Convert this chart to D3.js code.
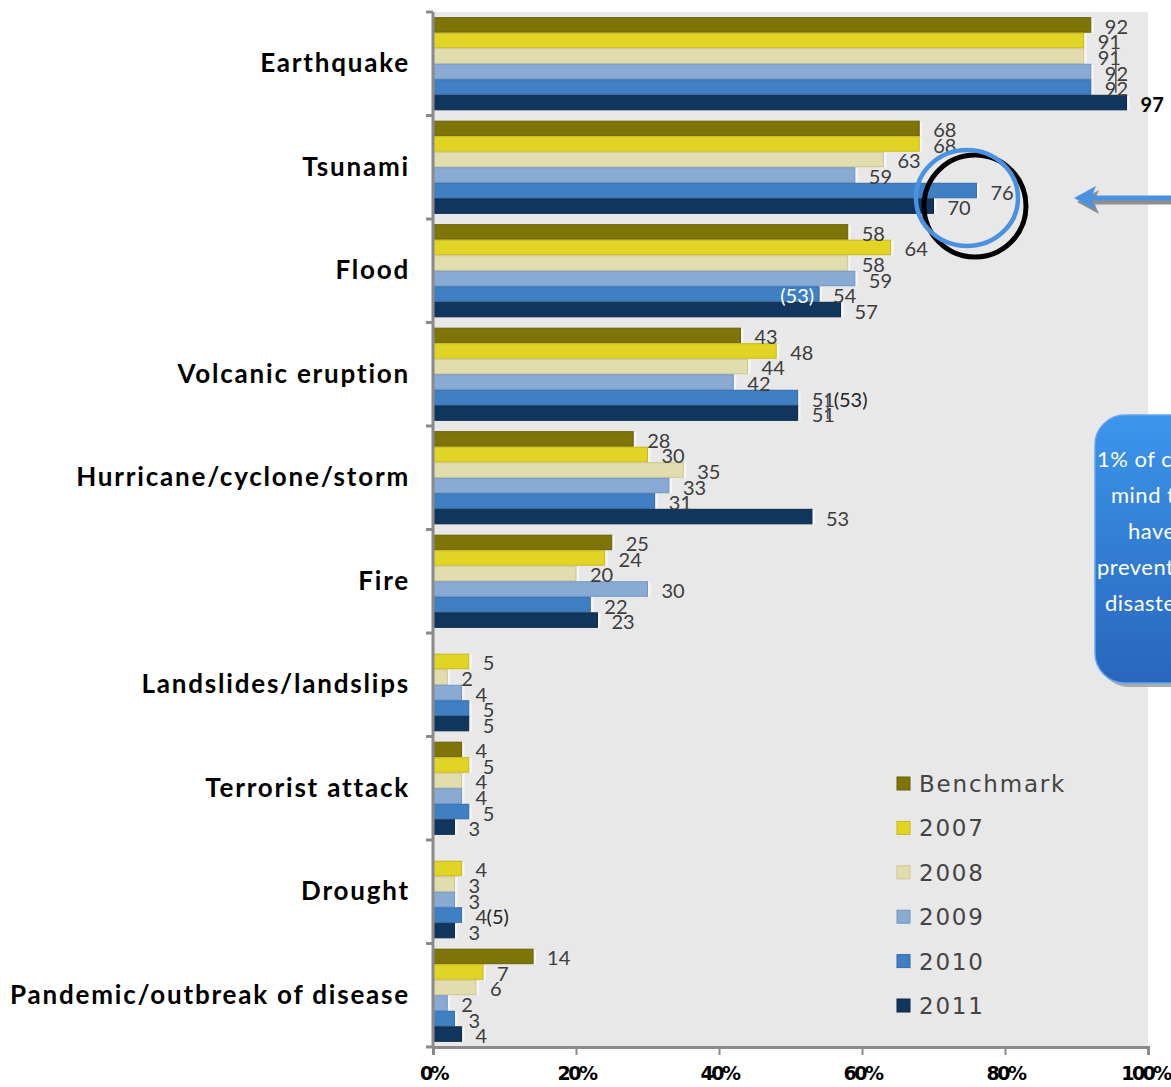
<!DOCTYPE html>
<html>
<head>
<meta charset="utf-8">
<script src="https://cdn.jsdelivr.net/npm/d3@7"></script>
<style>
  html, body { margin: 0; padding: 0; background: #ffffff; overflow: hidden; }
  svg { display: block; }
</style>
</head>
<body>
<svg id="chart" width="1171" height="1087"></svg>
<script>
// Hazard categories, top to bottom
const categories = [
  "Earthquake", "Tsunami", "Flood", "Volcanic eruption",
  "Hurricane/cyclone/storm", "Fire", "Landslides/landslips",
  "Terrorist attack", "Drought", "Pandemic/outbreak of disease"
];

// Series, in drawing order within each group
const seriesNames = ["Benchmark", "2007", "2008", "2009", "2010", "2011"];

// Percentages per series (null = no value reported)
const benchmark = [92, 68, 58, 43, 28, 25, null, 4, null, 14];
const y2007     = [91, 68, 64, 48, 30, 24, 5, 5, 4, 7];
const y2008     = [91, 63, 58, 44, 35, 20, 2, 4, 3, 6];
const y2009     = [92, 59, 59, 42, 33, 30, 4, 4, 3, 2];
const y2010     = [92, 76, 54, 51, 31, 22, 5, 5, 4, 3];
const y2011     = [97, 70, 57, 51, 53, 23, 5, 3, 3, 4];

// Axis tick values (percent)
const xTicks = [0, 20, 40, 60, 80, 100];

// Bracketed side notes attached to particular bars
const notes = [
  { category: "Flood", series: "2010", text: "(53)", inside: true },
  { category: "Volcanic eruption", series: "2010", text: "(53)", inside: false },
  { category: "Drought", series: "2010", text: "(5)", inside: false }
];

// Callout text
const calloutLines = ["1% of companies", "mind they", "have", "prevented", "disasters"];

const seriesValues = [benchmark, y2007, y2008, y2009, y2010, y2011];
const fills   = ["#7f7407", "#e2d424", "#e2ddad", "#88aad3", "#3f80c5", "#10365f"];
const strokes = ["#6a6005", "#c8b814", "#cbc58f", "#6f95c3", "#2f6aad", "#0a2846"];

const svg = d3.select("#chart");

const plot = { left: 433, right: 1148, top: 12, bottom: 1047 };

const x = d3.scaleLinear().domain([0, 100]).range([plot.left, plot.right]);
const y = d3.scaleBand().domain(categories).range([plot.top, plot.bottom])
  .paddingInner(0.1).paddingOuter(0.05);
const ys = d3.scaleBand().domain(seriesNames).range([0, y.bandwidth()]);

// plot background
svg.append("rect")
  .attr("x", plot.left).attr("y", plot.top)
  .attr("width", plot.right - plot.left).attr("height", plot.bottom - plot.top)
  .attr("fill", "#e8e8e8");

// flatten data
const rows = [];
categories.forEach((c, i) => {
  seriesNames.forEach((s, j) => {
    const v = seriesValues[j][i];
    if (v !== null) rows.push({ category: c, series: s, si: j, value: v });
  });
});

const barY = d => y(d.category) + ys(d.series);

// bars
const gBars = svg.append("g");
gBars.selectAll("rect.shadow").data(rows).join("rect")
  .attr("class", "shadow")
  .attr("x", x(0)).attr("y", d => barY(d) + 1)
  .attr("width", d => x(d.value) - x(0) + 3)
  .attr("height", ys.bandwidth() - 1)
  .attr("fill", "#f6f6f6");
gBars.selectAll("rect.bar").data(rows).join("rect")
  .attr("class", "bar")
  .attr("x", x(0)).attr("y", d => barY(d) + 0.5)
  .attr("width", d => x(d.value) - x(0))
  .attr("height", ys.bandwidth() - 1)
  .attr("fill", d => fills[d.si])
  .attr("stroke", d => strokes[d.si])
  .attr("stroke-width", 1);

// value labels
const isBold = d => d.category === "Earthquake" && d.series === "2011";
const gLabels = svg.append("g")
  .style("font-family", "Lato, 'DejaVu Sans', sans-serif");
gLabels.selectAll("text").data(rows).join("text")
  .attr("x", d => x(d.value) + 14)
  .attr("y", d => barY(d) + ys.bandwidth() / 2 + 1)
  .attr("dominant-baseline", "central")
  .attr("font-size", 20)
  .attr("font-weight", d => isBold(d) ? 700 : 400)
  .attr("fill", d => isBold(d) ? "#000" : "#3c3c3c")
  .text(d => d.value);

// bracketed notes
notes.forEach(n => {
  const d = rows.find(r => r.category === n.category && r.series === n.series);
  const t = gLabels.append("text")
    .attr("y", barY(d) + ys.bandwidth() / 2 + 1)
    .attr("dominant-baseline", "central")
    .attr("font-size", 20)
    .text(n.text);
  if (n.inside) {
    t.attr("x", x(d.value) - 5).attr("text-anchor", "end").attr("fill", "#ffffff");
  } else {
    t.attr("x", x(d.value) + 14 + (String(d.value).length * 11)).attr("fill", "#222");
  }
});

// leader lines for crowded labels
const leader = (cat, s1, s2, v) => {
  const a = rows.find(r => r.category === cat && r.series === s1);
  const b = rows.find(r => r.category === cat && r.series === s2);
  svg.append("line")
    .attr("x1", x(v)).attr("x2", x(v))
    .attr("y1", barY(a) + 4).attr("y2", barY(b) + ys.bandwidth() - 2)
    .attr("stroke", "#555").attr("stroke-width", 1.5);
};
leader("Earthquake", "2007", "2010", 95.5);
leader("Volcanic eruption", "2010", "2011", 55.2);
leader("Hurricane/cyclone/storm", "2010", "2010", 35.5);

// left axis: boundaries between groups
const step = y.step();
const boundaryYs = categories.map((c, i) => plot.top + i * step).concat([plot.bottom]);
svg.append("g").selectAll("line").data(boundaryYs).join("line")
  .attr("x1", plot.left - 7).attr("x2", plot.left)
  .attr("y1", d => d).attr("y2", d => d)
  .attr("stroke", "#8a8a8a").attr("stroke-width", 3);
svg.append("line")
  .attr("x1", plot.left).attr("x2", plot.left)
  .attr("y1", plot.top).attr("y2", plot.bottom)
  .attr("stroke", "#8a8a8a").attr("stroke-width", 3);

// category labels
const yAxis = d3.axisLeft(y).tickSize(0).tickPadding(23);
const gy = svg.append("g").attr("transform", `translate(${plot.left},0)`).call(yAxis);
gy.select(".domain").remove();
gy.selectAll("text")
  .style("font-family", "Lato, 'DejaVu Sans', sans-serif")
  .attr("font-size", 26)
  .attr("font-weight", 700)
  .attr("letter-spacing", 1.8)
  .attr("fill", "#000");

// bottom axis
const xAxis = d3.axisBottom(x).tickValues(xTicks).tickFormat(d => d + "%").tickSize(8).tickPadding(12);
const gx = svg.append("g").attr("transform", `translate(0,${plot.bottom})`).call(xAxis);
gx.select(".domain").attr("stroke", "#8a8a8a").attr("stroke-width", 3);
gx.selectAll(".tick line").attr("stroke", "#8a8a8a").attr("stroke-width", 2);
gx.selectAll("text")
  .style("font-family", "'DejaVu Sans', sans-serif")
  .attr("font-size", 19)
  .attr("font-weight", 700)
  .attr("letter-spacing", -2.5)
  .attr("fill", "#000");
gx.selectAll(".tick").filter(d => d === 100).select("text").attr("dx", -3);

// legend
const legend = svg.append("g").attr("transform", "translate(897,784)");
const li = legend.selectAll("g").data(seriesNames).join("g")
  .attr("transform", (d, i) => `translate(0,${i * 44.4})`);
li.append("rect")
  .attr("x", 0).attr("y", -7).attr("width", 13).attr("height", 13)
  .attr("fill", (d, i) => fills[i])
  .attr("stroke", (d, i) => strokes[i]).attr("stroke-width", 1);
li.append("text")
  .attr("x", 22).attr("y", 0)
  .attr("dominant-baseline", "central")
  .style("font-family", "'DejaVu Sans', sans-serif")
  .attr("font-size", 23)
  .attr("letter-spacing", 1.8)
  .attr("fill", "#444")
  .text(d => d);

// highlight circles around the Tsunami 2010/2011 bars
svg.append("circle")
  .attr("cx", 975).attr("cy", 206).attr("r", 51)
  .attr("fill", "none").attr("stroke", "#000").attr("stroke-width", 5);
svg.append("ellipse")
  .attr("cx", 967).attr("cy", 198).attr("rx", 51).attr("ry", 48)
  .attr("fill", "none").attr("stroke", "#4a92e0").attr("stroke-width", 4.5);

// arrow pointing at the highlight
const defs = svg.append("defs");
const arrow = (g, color) => {
  g.append("line")
    .attr("x1", 1171).attr("x2", 1088).attr("y1", 0).attr("y2", 0)
    .attr("stroke", color).attr("stroke-width", 5);
  g.append("path")
    .attr("d", "M1074,0 L1096,-12 L1091,0 L1096,12 Z")
    .attr("fill", color);
};
arrow(svg.append("g").attr("transform", "translate(3,202)"), "#8f8f8f");
arrow(svg.append("g").attr("transform", "translate(0,198)"), "#4a92e0");

// callout box
const grad = defs.append("linearGradient").attr("id", "calloutFill")
  .attr("x1", 0).attr("y1", 0).attr("x2", 0).attr("y2", 1);
grad.append("stop").attr("offset", "0%").attr("stop-color", "#3d95ec");
grad.append("stop").attr("offset", "100%").attr("stop-color", "#2866bc");
svg.append("rect")
  .attr("x", 1099).attr("y", 419).attr("width", 140).attr("height", 268).attr("rx", 30)
  .attr("fill", "#9a9a9a").attr("opacity", 0.8);
svg.append("rect")
  .attr("x", 1095).attr("y", 415).attr("width", 140).attr("height", 268).attr("rx", 30)
  .attr("fill", "url(#calloutFill)").attr("stroke", "#5fa6ee").attr("stroke-width", 1.5);
const lineStarts = [1097, 1111, 1128, 1097, 1105];
svg.append("g").selectAll("text").data(calloutLines).join("text")
  .attr("x", (d, i) => lineStarts[i])
  .attr("y", (d, i) => 458 + i * 36)
  .attr("dominant-baseline", "central")
  .style("font-family", "Lato, 'DejaVu Sans', sans-serif")
  .attr("font-size", 22)
  .attr("letter-spacing", 0.5)
  .attr("fill", "#ffffff")
  .text(d => d);
</script>
</body>
</html>
